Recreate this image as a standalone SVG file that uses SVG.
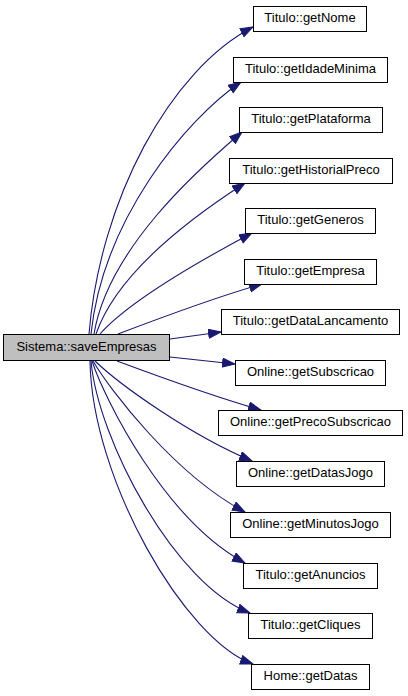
<svg xmlns="http://www.w3.org/2000/svg" width="408" height="696" viewBox="0 0 408 696">
<defs>
<style>
.box{fill:#ffffff;stroke:#000000;stroke-width:1}
.src{fill:#bfbfbf;stroke:#000000;stroke-width:1}
.lbl{font-family:"Liberation Sans",Arial,Helvetica,sans-serif;font-size:13px;fill:#000000;text-anchor:middle}
.edge{fill:none;stroke:#191970;stroke-width:1.1;marker-end:url(#arr)}
</style>
<marker id="arr" markerUnits="userSpaceOnUse" markerWidth="14" markerHeight="11" refX="13" refY="5" orient="auto">
<path d="M0.5,0.5 L13,5 L0.5,9.5 z" fill="#191970" stroke="#191970" stroke-width="1"/>
</marker>
</defs>
<rect width="408" height="696" fill="#ffffff"/>
<g id="connectors">
<path class="edge" d="M89,334 C100,200 170,70 253,27"/>
<path class="edge" d="M91,334 C103,220 185,120 241,82"/>
<path class="edge" d="M94,334 C108,250 195,172 242,132"/>
<path class="edge" d="M96,334 C118,270 200,212 245,183"/>
<path class="edge" d="M100,334 C130,300 205,258 252,233"/>
<path class="edge" d="M118,334 C160,318 220,296 262,284"/>
<path class="edge" d="M170,339 L221,332"/>
<path class="edge" d="M170,357 L235,364"/>
<path class="edge" d="M117,361 C160,377 215,397 261,410"/>
<path class="edge" d="M95,361 C120,385 190,435 252,461"/>
<path class="edge" d="M93,361 C110,390 175,475 245,512"/>
<path class="edge" d="M92,361 C105,400 165,520 245,563"/>
<path class="edge" d="M91,361 C98,440 175,585 250,613"/>
<path class="edge" d="M90,361 C92,480 185,640 253,664"/>
</g>
<g id="node-source">
<rect class="src" x="3.5" y="334.5" width="166" height="26"/>
<text class="lbl" x="86.5" y="351">Sistema::saveEmpresas</text>
</g>
<g id="node-getNome">
<rect class="box" x="253.5" y="6.5" width="113" height="25"/>
<text class="lbl" x="310" y="22">Titulo::getNome</text>
</g>
<g id="node-getIdadeMinima">
<rect class="box" x="233.5" y="57.5" width="154" height="25"/>
<text class="lbl" x="310.5" y="73">Titulo::getIdadeMinima</text>
</g>
<g id="node-getPlataforma">
<rect class="box" x="239.5" y="107.5" width="143" height="25"/>
<text class="lbl" x="311" y="123">Titulo::getPlataforma</text>
</g>
<g id="node-getHistorialPreco">
<rect class="box" x="229.5" y="158.5" width="163" height="25"/>
<text class="lbl" x="311" y="174">Titulo::getHistorialPreco</text>
</g>
<g id="node-getGeneros">
<rect class="box" x="245.5" y="208.5" width="130" height="25"/>
<text class="lbl" x="310.5" y="224">Titulo::getGeneros</text>
</g>
<g id="node-getEmpresa">
<rect class="box" x="244.5" y="259.5" width="132" height="25"/>
<text class="lbl" x="310.5" y="275">Titulo::getEmpresa</text>
</g>
<g id="node-getDataLancamento">
<rect class="box" x="221.5" y="309.5" width="178" height="25"/>
<text class="lbl" x="310.5" y="325">Titulo::getDataLancamento</text>
</g>
<g id="node-getSubscricao">
<rect class="box" x="235.5" y="360.5" width="150" height="25"/>
<text class="lbl" x="310.5" y="376">Online::getSubscricao</text>
</g>
<g id="node-getPrecoSubscricao">
<rect class="box" x="218.5" y="410.5" width="184" height="25"/>
<text class="lbl" x="310.5" y="426">Online::getPrecoSubscricao</text>
</g>
<g id="node-getDatasJogo">
<rect class="box" x="236.5" y="461.5" width="148" height="25"/>
<text class="lbl" x="310.5" y="477">Online::getDatasJogo</text>
</g>
<g id="node-getMinutosJogo">
<rect class="box" x="230.5" y="512.5" width="160" height="25"/>
<text class="lbl" x="310.5" y="528">Online::getMinutosJogo</text>
</g>
<g id="node-getAnuncios">
<rect class="box" x="243.5" y="563.5" width="134" height="25"/>
<text class="lbl" x="310.5" y="579">Titulo::getAnuncios</text>
</g>
<g id="node-getCliques">
<rect class="box" x="248.5" y="613.5" width="124" height="25"/>
<text class="lbl" x="310.5" y="629">Titulo::getCliques</text>
</g>
<g id="node-getDatas">
<rect class="box" x="251.5" y="664.5" width="118" height="25"/>
<text class="lbl" x="310.5" y="680">Home::getDatas</text>
</g>
</svg>
